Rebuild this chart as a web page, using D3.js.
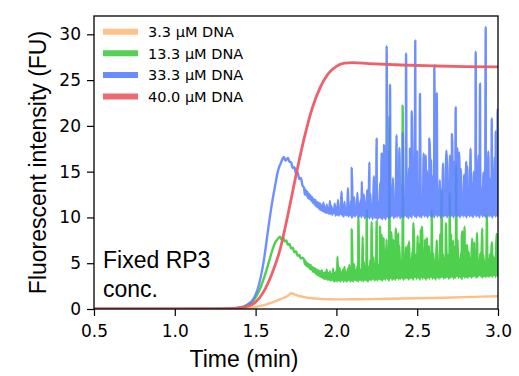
<!DOCTYPE html>
<html>
<head>
<meta charset="utf-8">
<script src="https://cdn.jsdelivr.net/npm/d3@7"></script>
<style>
  body { margin: 0; background: #fff; }
  svg { display: block; }
</style>
</head>
<body>
<div id="chart"></div>
<script>
// sizes
const W = 519, H = 376;
const margin = { top: 16, right: 21, bottom: 67, left: 94 };

// x ticks / y ticks
const xTicks = [0.5, 1.0, 1.5, 2.0, 2.5, 3.0];
const yTicks = [0, 5, 10, 15, 20, 25, 30];

const seriesNames = ["3.3 \u03bcM DNA", "13.3 \u03bcM DNA", "33.3 \u03bcM DNA", "40.0 \u03bcM DNA"];
const seriesColors = ["#ffbb80", "#44cc44", "#5a80ff", "#ec5a62"];

// smooth curves, [time (min), FU]
const orangeData = [[0.5,0],[1.0,0],[1.3,0.01],[1.4,0.04],[1.45,0.1],[1.5,0.22],[1.55,0.42],[1.6,0.7],
  [1.65,1.05],[1.7,1.45],[1.72,1.72],[1.74,1.6],[1.77,1.42],[1.8,1.3],[1.85,1.17],[1.9,1.1],[2.0,1.05],
  [2.1,1.06],[2.2,1.08],[2.4,1.14],[2.6,1.2],[2.8,1.3],[3.0,1.4]];

const redData = [[0.5,0],[1.3,0.02],[1.4,0.12],[1.45,0.3],[1.5,0.75],[1.55,1.9],[1.6,3.8],[1.65,6.4],
  [1.7,10.3],[1.75,14.6],[1.8,18.6],[1.85,21.9],[1.9,24.2],[1.95,25.7],[2.0,26.5],[2.05,26.85],[2.1,26.9],
  [2.2,26.8],[2.4,26.65],[2.6,26.55],[2.8,26.48],[3.0,26.45]];

// rising part before the noise starts
const blueRise = [[0.5,0],[1.0,0],[1.3,0.02],[1.35,0.06],[1.4,0.15],[1.43,0.3],[1.46,0.6],[1.49,1.2],
  [1.52,2.6],[1.55,5.2],[1.58,9.0],[1.6,11.4],[1.62,13.4],[1.64,15.2],[1.66,16.1],[1.675,16.6],[1.685,16.2],
  [1.70,16.5],[1.71,16.1],[1.72,16.0],[1.73,15.4],[1.74,15.5],[1.75,14.8],[1.76,14.9],[1.77,14.2],
  [1.78,14.3],[1.79,13.5]];

const greenRise = [[0.5,0],[1.0,0],[1.3,0.02],[1.4,0.15],[1.45,0.45],[1.49,1.0],[1.52,1.9],[1.55,3.3],
  [1.58,5.0],[1.6,6.2],[1.62,7.2],[1.64,7.7],[1.65,7.9],[1.66,7.6],[1.67,7.8],[1.68,7.4],[1.69,7.5],
  [1.70,7.0],[1.71,7.1],[1.72,6.6],[1.73,6.7],[1.74,6.2],[1.75,6.3],[1.76,5.8],[1.77,5.9],[1.78,5.5],
  [1.79,5.6]];

// noisy part, one reading every 0.005 min from 1.80 to 3.00 (rows of 0.05 min)
const noiseStart = 1.8, noiseStep = 0.005;
const blueNoise = [
  13.2, 12.5, 13.0, 12.4, 12.8, 12.1, 12.6, 12.0, 12.4, 11.8,
  12.2, 11.6, 12.0, 11.4, 11.9, 11.2, 11.7, 11.1, 11.6, 10.9,
  11.5, 10.8, 11.3, 10.7, 11.6, 10.6, 11.1, 10.5, 11.4, 10.5,
  11.0, 10.4, 11.8, 10.4, 11.2, 10.3, 10.9, 10.5, 11.5, 10.2,
  11.1, 10.3, 11.9, 10.2, 11.0, 10.4, 12.1, 10.2, 11.3, 10.1,
  11.7, 10.3, 10.9, 10.2, 12.4, 10.1, 11.2, 10.3, 11.8, 10.0,
  11.4, 10.2, 12.2, 10.1, 11.0, 10.3, 12.7, 10.0, 11.5, 10.2,
  11.9, 10.0, 11.3, 10.2, 12.5, 9.9, 11.6, 10.1, 13.0, 10.0,
  11.8, 9.9, 12.6, 10.1, 11.4, 9.8, 13.2, 10.0, 12.1, 9.9,
  12.9, 9.8, 11.7, 10.0, 13.8, 9.9, 12.3, 9.8, 14.0, 10.0,
  12.6, 9.8, 14.6, 10.1, 17.2, 9.9, 15.2, 10.0, 12.8, 10.2,
  14.3, 9.9, 11.5, 10.1, 15.8, 10.0, 12.9, 10.2, 17.6, 9.9,
  13.4, 10.1, 16.2, 10.0, 11.7, 10.2, 14.9, 10.1, 13.6, 9.9,
  15.4, 10.2, 12.8, 10.0, 17.8, 10.3, 16.4, 10.1, 11.9, 10.0,
  14.8, 10.2, 13.3, 10.1, 15.7, 10.0, 11.6, 10.3, 17.0, 10.1,
  13.7, 10.2, 15.1, 10.0, 12.9, 10.3, 16.0, 10.1, 11.8, 10.2,
  14.6, 10.0, 17.4, 10.3, 15.5, 10.1, 12.8, 10.2, 14.1, 10.0,
  11.7, 10.3, 15.9, 10.1, 12.7, 10.2, 17.3, 10.0, 13.3, 10.3,
  15.2, 10.1, 11.8, 10.2, 14.5, 10.0, 16.1, 10.3, 12.9, 10.1,
  14.0, 10.2, 17.1, 10.0, 15.3, 10.3, 11.9, 10.1, 14.7, 10.2,
  13.1, 10.0, 15.6, 10.3, 12.0, 10.1, 17.5, 10.2, 13.7, 10.0,
  15.0, 10.3, 11.8, 10.1, 14.6, 10.2, 16.8, 10.0, 15.8, 10.3,
  13.2, 10.1, 14.9, 10.2, 11.7, 10.0, 15.4, 10.3, 17.2, 10.1,
  14.2, 10.2, 12.0, 10.0, 15.1, 10.3, 16.6, 10.1, 14.4, 10.2,
  11.5];
const greenNoise = [
  5.4, 4.9, 5.2, 4.7, 5.0, 4.6, 4.9, 4.4, 4.8, 4.3,
  4.6, 4.1, 4.5, 4.0, 4.4, 3.8, 4.3, 3.7, 4.2, 3.6,
  4.1, 3.5, 4.2, 3.4, 3.9, 3.3, 4.0, 3.3, 4.3, 3.2,
  3.9, 3.2, 4.1, 3.1, 3.8, 3.2, 4.4, 3.0, 3.9, 3.1,
  4.2, 3.0, 3.9, 3.1, 4.5, 3.0, 4.0, 3.2, 4.3, 3.0,
  4.6, 3.1, 4.0, 3.0, 4.4, 3.2, 4.8, 3.0, 4.1, 3.1,
  4.5, 3.0, 4.9, 3.2, 4.2, 3.1, 4.7, 3.0, 5.1, 3.2,
  4.3, 3.1, 4.8, 3.0, 5.2, 3.2, 4.5, 3.1, 5.0, 3.0,
  4.6, 3.2, 5.4, 3.1, 6.8, 3.3, 5.6, 3.1, 4.9, 3.2,
  7.3, 3.1, 4.8, 3.3, 5.7, 3.2, 8.1, 3.1, 5.5, 3.3,
  4.9, 3.2, 7.6, 3.3, 5.1, 3.1, 6.0, 3.4, 8.4, 3.2,
  5.7, 3.3, 5.0, 3.2, 7.9, 3.4, 5.3, 3.2, 6.9, 3.3,
  5.2, 3.4, 8.6, 3.2, 5.5, 3.3, 6.8, 3.4, 5.1, 3.2,
  7.4, 3.3, 5.4, 3.4, 6.3, 3.2, 8.0, 3.5, 5.9, 3.3,
  5.3, 3.4, 7.1, 3.2, 5.6, 3.5, 9.0, 3.3, 6.2, 3.4,
  5.5, 3.2, 7.8, 3.4, 5.1, 3.3, 6.0, 3.5, 8.3, 3.3,
  6.1, 3.4, 5.3, 3.2, 7.5, 3.5, 5.2, 3.3, 6.3, 3.4,
  8.7, 3.5, 6.0, 3.3, 5.6, 3.4, 7.2, 3.5, 5.9, 3.3,
  5.2, 3.4, 8.2, 3.5, 5.5, 3.3, 6.8, 3.4, 5.3, 3.6,
  7.6, 3.4, 5.4, 3.5, 6.1, 3.3, 8.5, 3.6, 5.2, 3.4,
  5.9, 3.5, 7.0, 3.4, 6.2, 3.6, 5.5, 3.4, 7.7, 3.5,
  5.1, 3.6, 6.0, 3.4, 8.3, 3.5, 5.3, 3.7, 6.1, 3.5,
  7.4, 3.4, 5.9, 3.6, 5.2, 3.5, 8.0, 3.6, 5.4, 3.5,
  6.0, 3.6, 7.3, 3.5, 5.8, 3.7, 5.6, 3.5, 8.2, 3.6,
  5.0];

// single tall spikes, [time, FU]
const blueSpikes = [[2.033,12.8],[2.072,13.2],[2.095,15.4],[2.157,13.9],[2.204,16.0],[2.233,14.5],
  [2.249,18.6],[2.28,17.0],[2.295,17.9],[2.311,28.7],[2.332,24.5],[2.372,19.0],[2.41,19.2],[2.431,27.9],
  [2.455,17.5],[2.466,21.6],[2.488,29.3],[2.499,17.2],[2.517,23.5],[2.553,16.8],[2.575,18.6],[2.585,16.3],
  [2.606,26.6],[2.621,23.6],[2.683,16.4],[2.703,16.8],[2.715,19.1],[2.738,22.0],[2.748,17.6],[2.759,17.1],
  [2.803,16.1],[2.831,16.3],[2.862,28.1],[2.889,24.6],[2.924,30.8],[2.961,20.8],[2.986,19.4],[2.998,21.8]];
const greenSpikes = [[2.006,5.7],[2.095,8.7],[2.136,10.1],[2.163,7.9],[2.188,10.8],[2.218,9.5],
  [2.249,9.6],[2.27,9.0],[2.293,7.8],[2.328,21.0],[2.352,7.6],[2.367,8.8],[2.383,8.3],[2.41,22.2],
  [2.443,7.0],[2.476,9.4],[2.503,8.0],[2.522,8.7],[2.548,7.6],[2.573,6.9],[2.59,10.7],[2.621,7.2],
  [2.643,8.2],[2.651,13.0],[2.678,9.4],[2.701,12.7],[2.723,7.5],[2.741,15.7],[2.776,7.9],[2.793,9.0],
  [2.806,6.8],[2.837,6.1],[2.853,7.3],[2.868,6.5],[2.903,8.8],[2.931,10.3],[2.963,7.0],[2.992,8.1]];

function buildSeries(rise, noise, spikes) {
  const pts = rise.slice();
  noise.forEach((v, i) => pts.push([noiseStart + i * noiseStep, v]));
  spikes.forEach(p => pts.push(p));
  return pts.sort((a, b) => a[0] - b[0]);
}

const series = [
  orangeData,
  buildSeries(greenRise, greenNoise, greenSpikes),
  buildSeries(blueRise, blueNoise, blueSpikes),
  redData
];

const svg = d3.select("#chart").append("svg")
  .attr("width", W)
  .attr("height", H);

const x = d3.scaleLinear().domain([0.5, 3.0]).range([margin.left, W - margin.right]);
const y = d3.scaleLinear().domain([0, 32]).range([H - margin.bottom, margin.top]);

svg.append("clipPath").attr("id", "plotClip")
  .append("rect")
  .attr("x", margin.left).attr("y", margin.top)
  .attr("width", W - margin.left - margin.right)
  .attr("height", H - margin.top - margin.bottom);

const line = d3.line()
  .x(d => x(d[0]))
  .y(d => y(d[1]))
  .curve(d3.curveMonotoneX);

svg.append("g").attr("clip-path", "url(#plotClip)")
  .selectAll("path")
  .data(series)
  .enter()
  .append("path")
  .attr("d", line)
  .attr("fill", "none")
  .attr("stroke", (d, i) => seriesColors[i])
  .attr("stroke-opacity", (d, i) => i === 2 ? 0.88 : 0.95)
  .attr("stroke-width", (d, i) => i === 3 ? 2.8 : 2.4)
  .attr("stroke-linejoin", "round");

// axes
const xAxis = svg.append("g")
  .attr("transform", "translate(0," + (H - margin.bottom) + ")")
  .call(d3.axisBottom(x).tickValues(xTicks).tickFormat(d3.format(".1f")).tickSize(7).tickPadding(9).tickSizeOuter(0));
const yAxis = svg.append("g")
  .attr("transform", "translate(" + margin.left + ",0)")
  .call(d3.axisLeft(y).tickValues(yTicks).tickSize(7).tickPadding(6).tickSizeOuter(0));

[xAxis, yAxis].forEach(g => {
  g.select(".domain").remove();
  g.selectAll("line").attr("stroke", "#000").attr("stroke-width", 1.2);
  g.selectAll("text")
    .attr("fill", "#000")
    .style("font-family", "DejaVu Sans")
    .style("font-size", "17px");
});

// frame
svg.append("rect")
  .attr("x", margin.left).attr("y", margin.top)
  .attr("width", W - margin.left - margin.right)
  .attr("height", H - margin.top - margin.bottom)
  .attr("fill", "none")
  .attr("stroke", "#000")
  .attr("stroke-width", 1.3);

// axis labels
svg.append("text")
  .attr("x", 244).attr("y", 367)
  .attr("text-anchor", "middle")
  .style("font-family", "Liberation Sans")
  .style("font-size", "23px")
  .text("Time (min)");

svg.append("text")
  .attr("transform", "translate(46," + ((margin.top + H - margin.bottom) / 2) + ") rotate(-90)")
  .attr("text-anchor", "middle")
  .style("font-family", "Liberation Sans")
  .style("font-size", "23px")
  .text("Fluorescent intensity (FU)");

// annotation
const note = svg.append("text")
  .attr("x", 103).attr("y", 268)
  .style("font-family", "Liberation Sans")
  .style("font-size", "23px");
note.append("tspan").attr("x", 103).text("Fixed RP3");
note.append("tspan").attr("x", 103).attr("dy", 28.5).text("conc.");

// legend
const legend = svg.append("g")
  .selectAll("g")
  .data(seriesNames)
  .enter()
  .append("g")
  .attr("transform", (d, i) => "translate(0," + (31.7 + i * 21.6) + ")");

legend.append("line")
  .attr("x1", 103).attr("x2", 138)
  .attr("stroke", (d, i) => seriesColors[i])
  .attr("stroke-opacity", 0.9)
  .attr("stroke-width", 6);

legend.append("text")
  .attr("x", 148).attr("y", 5.2)
  .style("font-family", "DejaVu Sans")
  .style("font-size", "14.5px")
  .text(d => d);
</script>
</body>
</html>
